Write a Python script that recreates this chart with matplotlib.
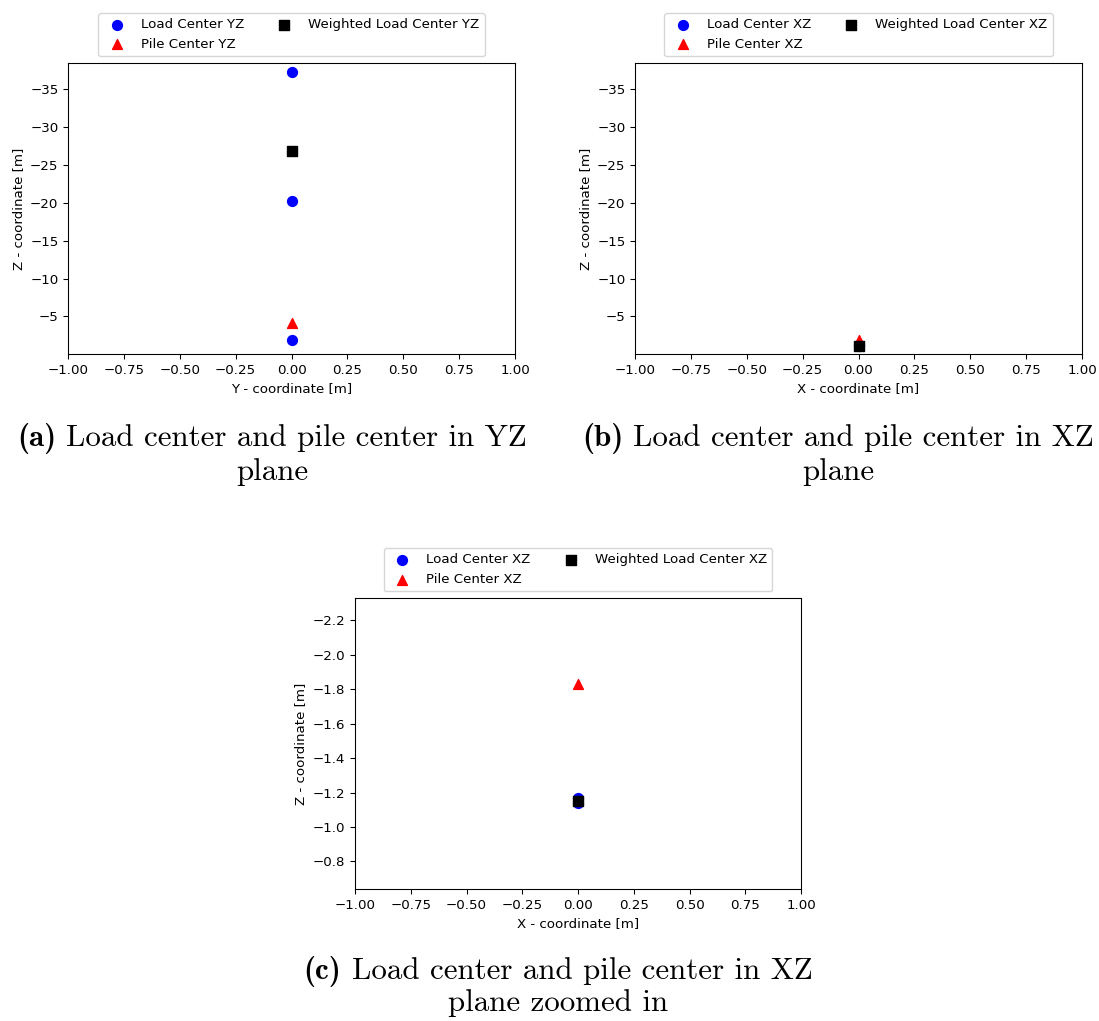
import matplotlib
matplotlib.use("Agg")
import matplotlib.pyplot as plt

## Data
yz_load_y = [0.0, 0.0, 0.0]
yz_load_z = [-37.28, -20.22, -1.90]
yz_pile_y = [0.0]
yz_pile_z = [-4.13]
yz_wload_y = [0.0]
yz_wload_z = [-26.77]

xz_load_x = [0.0, 0.0]
xz_load_z = [-1.17, -1.14]
xz_pile_x = [0.0]
xz_pile_z = [-1.83]
xz_wload_x = [0.0]
xz_wload_z = [-1.15]

captions = [
    ("(a)", "Load center and pile center in YZ", "plane"),
    ("(b)", "Load center and pile center in XZ", "plane"),
    ("(c)", "Load center and pile center in XZ", "plane zoomed in"),
]

# scale of the embedded figures
k = 0.96
plt.rcParams['font.size'] = 10 * k
plt.rcParams['axes.linewidth'] = 0.8 * k
for ax_ in ('xtick', 'ytick'):
    plt.rcParams[ax_ + '.major.size'] = 3.5 * k
    plt.rcParams[ax_ + '.major.width'] = 0.8 * k

W, H = 1099, 1021
fig = plt.figure(figsize=(W / 100, H / 100), dpi=100)


def box(x0, y0, x1, y1):
    return [x0 / W, 1 - y1 / H, (x1 - x0) / W, (y1 - y0) / H]


def panel(ax, lx, lz, px, pz, wx, wz, tag, xlab, ylim):
    ax.scatter(lx, lz, s=50, c='blue', marker='o', label='Load Center ' + tag)
    ax.scatter(px, pz, s=50, c='red', marker='^', label='Pile Center ' + tag)
    ax.scatter(wx, wz, s=50, c='black', marker='s', label='Weighted Load Center ' + tag)
    ax.set_xlim(-1, 1)
    ax.set_ylim(*ylim)
    ax.set_xlabel(xlab + ' - coordinate [m]')
    ax.set_ylabel('Z - coordinate [m]')
    ax.legend(loc='lower center', bbox_to_anchor=(0.5, 1.0), ncol=2,
              scatterpoints=1, columnspacing=2.0)


ax1 = fig.add_axes(box(68, 63, 515, 354))
panel(ax1, yz_load_y, yz_load_z, yz_pile_y, yz_pile_z, yz_wload_y, yz_wload_z,
      'YZ', 'Y', (-0.04, -38.43))

ax2 = fig.add_axes(box(635, 63, 1082, 354))
panel(ax2, xz_load_x, xz_load_z, xz_pile_x, xz_pile_z, xz_wload_x, xz_wload_z,
      'XZ', 'X', (-0.04, -38.43))

ax3 = fig.add_axes(box(355, 598, 801, 889))
panel(ax3, xz_load_x, xz_load_z, xz_pile_x, xz_pile_z, xz_wload_x, xz_wload_z,
      'XZ', 'X', (max(xz_load_z) + 0.5, min(xz_pile_z) - 0.5))

# captions (LaTeX subfigure style): bold label + roman text, centred
fs = 22.3
space = 0.333 * fs * 100 / 72
renderer = fig.canvas.get_renderer()
cap_pos = [(272, 446.5, 33), (838, 446.5, 33), (558, 979, 32)]
for (lab, line1, line2), (cx, by, gap) in zip(captions, cap_pos):
    tb = fig.text(0, 1 - by / H, lab, family='cmb10', fontsize=fs,
                  ha='left', va='baseline')
    tr = fig.text(0, 1 - by / H, line1, family='cmr10', fontsize=fs,
                  ha='left', va='baseline')
    wb = tb.get_window_extent(renderer).width
    wr = tr.get_window_extent(renderer).width
    x0 = cx - (wb + space + wr) / 2
    tb.set_x(x0 / W)
    tr.set_x((x0 + wb + space) / W)
    fig.text(cx / W, 1 - (by + gap) / H, line2,
             family='cmr10', fontsize=fs, ha='center', va='baseline')

fig.savefig('out.png', dpi=100)
